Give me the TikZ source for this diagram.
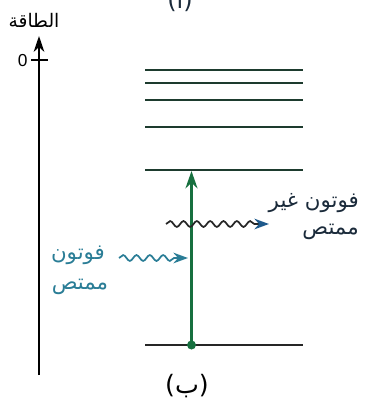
\documentclass[tikz,border=0pt]{standalone}
\usepackage{fontspec}
\setmainfont{Liberation Sans}
\newfontfamily\arabicfont[Script=Arabic]{DejaVu Sans}
\TeXXeTstate=1
\usetikzlibrary{arrows.meta,decorations.pathmorphing}
\definecolor{lvl}{HTML}{1D3B2E}
\definecolor{grn}{HTML}{17703F}
\definecolor{teal2}{HTML}{2A7D96}
\definecolor{blu}{HTML}{1E5A8C}
\definecolor{txt}{HTML}{1A2A3A}
\tikzset{
  level/.style={draw=lvl, line width=1.7pt},
  ar/.style={font=\arabicfont\fontsize{16}{18}\selectfont, inner sep=0pt},
  wave/.style={decorate, decoration={snake, amplitude=2.2, segment length=10, post length=10}, line width=1.3pt},
}
\begin{document}
\begin{tikzpicture}[x=0.75pt,y=-0.75pt]
\useasboundingbox (0,0) rectangle (365,408);
\clip (0,0) rectangle (365,408);
% cut-off label at top
\node[ar, text=txt, font=\arabicfont\fontsize{18}{20}\selectfont] (lblA) at (180,-2) {\beginR(أ)\endR};
% axis
\coordinate (axb) at (39,375);
\coordinate (axt) at (39,36);
\draw[line width=1.3pt, -{Stealth[length=12pt,width=8pt]}] (axb) -- (axt);
\coordinate (tl) at (31,60);
\coordinate (tr) at (48,60);
\draw[line width=1.1pt] (tl) -- (tr);
\node[font=\fontsize{13}{14}\selectfont, anchor=east, inner sep=1pt] (zero) at (29,61) {0};
\node[ar, text=black, font=\arabicfont\fontsize{14}{16}\selectfont] (energy) at (34,20) {\beginR الطاقة\endR};
% levels
\foreach \y/\n in {70/a,83/b,100/c,127/d,170/e}{
  \coordinate (L\n l) at (145,\y);
  \coordinate (L\n r) at (303,\y);
  \draw[level] (L\n l) -- (L\n r);
}
\coordinate (Lgl) at (145,345);
\coordinate (Lgr) at (303,345);
\draw[line width=1.7pt, draw=black!85] (Lgl) -- (Lgr);
% transition
\coordinate (g) at (191.5,345);
\coordinate (e) at (191.5,171);
\draw[grn, line width=1.9pt, -{Stealth[length=13pt,width=9pt]}] (g) -- (e);
\fill[grn] (g) circle (4.5);
% non-absorbed photon
\coordinate (n1) at (166,224);
\coordinate (n2) at (269,224);
\draw[wave, draw=black!85, -{Stealth[length=11pt,width=8pt,color=blu]}] (n1) -- (n2);
\node[ar, text=txt, anchor=east] (nab1) at (359,203) {\beginR فوتون غير\endR};
\node[ar, text=txt, anchor=east] (nab2) at (359,232) {\beginR ممتص\endR};
% absorbed photon
\coordinate (a1) at (119,258);
\coordinate (a2) at (188,258);
\draw[wave, draw=teal2, -{Stealth[length=11pt,width=8pt]}] (a1) -- (a2);
\node[ar, text=teal2] (ab1) at (78,255) {\beginR فوتون\endR};
\node[ar, text=teal2] (ab2) at (80,287) {\beginR ممتص\endR};
% caption
\node[ar, text=black, font=\arabicfont\fontsize{19}{21}\selectfont] (lblB) at (187,386) {\beginR(ب)\endR};
\end{tikzpicture}
\end{document}
